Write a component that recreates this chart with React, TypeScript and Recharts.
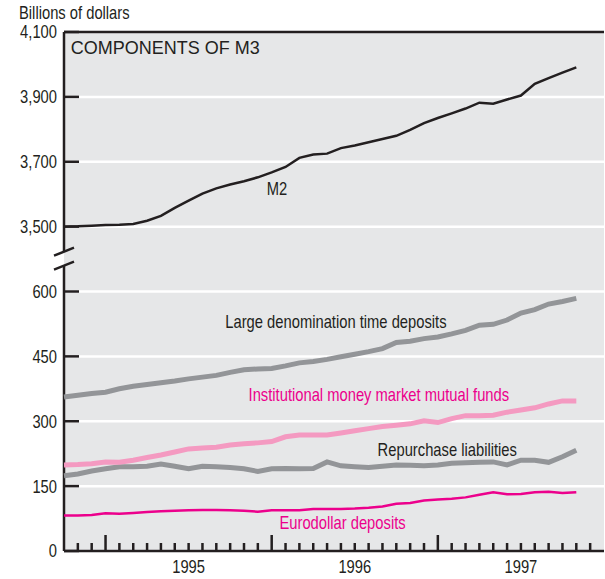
import React from 'react';
import {
  LineChart,
  Line,
  XAxis,
  YAxis,
  CartesianGrid,
  ReferenceLine,
  ReferenceDot,
} from 'recharts';

// Monthly observations, October 1994 through November 1997 (billions of dollars)
const m2 = [
  3500, 3501, 3503, 3505, 3506, 3508, 3518, 3533, 3558, 3580, 3602, 3618, 3630,
  3640, 3652, 3667, 3684, 3712, 3722, 3725, 3742, 3750, 3760, 3770, 3780, 3798,
  3819, 3835, 3849, 3864, 3882, 3879, 3892, 3904, 3940, 3958, 3975, 3991,
];
const largeTime = [
  356, 360, 364, 367, 375, 381, 385, 389, 393, 398, 402, 406, 413, 419, 421, 422,
  428, 435, 438, 443, 449, 455, 461, 468, 482, 485, 491, 495, 502, 510, 522, 524,
  534, 550, 558, 571, 577, 584,
];
const institutional = [
  199, 200, 202, 206, 205, 210, 216, 222, 229, 236, 238, 240, 245, 248, 250, 253,
  264, 268, 268, 268, 273, 278, 283, 288, 291, 294, 301, 297, 306, 313, 313, 314,
  321, 326, 331, 340, 347, 347,
];
const repurchase = [
  174, 178, 185, 190, 195, 195, 196, 201, 196, 190, 196, 195, 193, 190, 184, 190,
  191, 190, 191, 206, 197, 195, 193, 196, 199, 198, 197, 199, 203, 204, 205, 206,
  199, 210, 210, 205, 218, 233,
];
const eurodollar = [
  82, 82, 83, 87, 86, 88, 90, 92, 93, 94, 95, 95, 94, 93, 91, 94, 94, 94, 97, 97,
  97, 98, 100, 103, 109, 111, 117, 119, 121, 124, 130, 136, 131, 132, 136, 137,
  134, 136,
];

// axis: 0-600 below the break, 3,500-4,100 above it
const yTicks = [0, 150, 300, 450, 600, 750, 900, 1050, 1200];
const yTickLabels = ['0', '150', '300', '450', '600', '3,500', '3,700', '3,900', '4,100'];
const monthTicks = Array.from({ length: 38 }, (_, i) => i + 1);
const yearLabels = [
  { idx: 9, text: '1995' },
  { idx: 21, text: '1996' },
  { idx: 33, text: '1997' },
];

// upper panel values are placed on the shared axis above the break
const toBreakAxis = (v: number) => 750 + (v - 3500) * 0.75;

const data = m2.map((v, i) => ({
  idx: i,
  m2: toBreakAxis(v),
  largeTime: largeTime[i],
  institutional: institutional[i],
  repurchase: repurchase[i],
  eurodollar: eurodollar[i],
}));

const INK = '#231f20';
const MAGENTA = '#ec008c';
const PINK = '#f49ac1';
const GRAY = '#939598';
const BG = '#e6e7e8';
const SANS = "'Liberation Sans', Arial, sans-serif";

const seriesLabels = [
  { text: 'M2', idx: 14.65, value: 824, color: INK },
  { text: 'Large denomination time deposits', idx: 11.65, value: 515, color: INK },
  { text: 'Institutional money market mutual funds', idx: 13.33, value: 347, color: MAGENTA },
  { text: 'Repurchase liabilities', idx: 22.65, value: 220, color: INK },
  { text: 'Eurodollar deposits', idx: 15.56, value: 50, color: MAGENTA },
];

// Arial squeezed horizontally stands in for a condensed face
const NarrowText = ({ x, y, anchor = 'start', color = INK, dy, children }: any) => (
  <text
    transform={`translate(${x},${y}) scale(0.82,1)`}
    x={0}
    y={0}
    dy={dy}
    textAnchor={anchor}
    fontFamily={SANS}
    fontSize={18}
    fill={color}
  >
    {children}
  </text>
);

const XTick = (props: any) => {
  const { x, y, payload } = props;
  const v = payload.value;
  const jan = (v - 3) % 12 === 0;
  const label = yearLabels.find((l) => l.idx === v);
  return (
    <g>
      <line x1={x} x2={x} y1={y} y2={y - (jan ? 16 : 8)} stroke={INK} strokeWidth={2.5} />
      {label && (
        <NarrowText x={x} y={y + 22} anchor="middle">
          {label.text}
        </NarrowText>
      )}
    </g>
  );
};

const YTick = (props: any) => {
  const { x, y, payload } = props;
  const i = yTicks.indexOf(payload.value);
  return (
    <g>
      <line x1={x} x2={x + 15} y1={y} y2={y} stroke={INK} strokeWidth={2.5} />
      <NarrowText x={x - 7} y={y} dy="0.36em" anchor="end">
        {yTickLabels[i]}
      </NarrowText>
    </g>
  );
};

const breakMark = (props: any) => (
  <line
    x1={props.cx - 10}
    y1={props.cy + 4}
    x2={props.cx + 10}
    y2={props.cy - 4}
    stroke={INK}
    strokeWidth={2.5}
  />
);

export default function App() {
  return (
    <div style={{ position: 'absolute', left: 0, top: 0, width: 605, height: 579 }}>
      <LineChart width={605} height={579} data={data} margin={{ top: 32, right: 1, bottom: 0, left: 0 }}>
        <CartesianGrid vertical={false} stroke="#ffffff" strokeWidth={2.5} fill={BG} fillOpacity={1} />
        <XAxis
          dataKey="idx"
          type="number"
          domain={[0, 39]}
          ticks={monthTicks}
          interval={0}
          tick={<XTick />}
          tickLine={false}
          tickSize={0}
          tickMargin={0}
          height={28}
          axisLine={{ stroke: INK, strokeWidth: 2.5 }}
        />
        <YAxis
          type="number"
          domain={[0, 1200]}
          ticks={yTicks}
          interval={0}
          tick={<YTick />}
          tickLine={false}
          tickSize={0}
          tickMargin={0}
          width={64}
          axisLine={false}
        />
        <ReferenceLine y={1200} stroke={INK} strokeWidth={2.5} />
        <ReferenceLine segment={[{ x: 0, y: 0 }, { x: 0, y: 660 }]} stroke={INK} strokeWidth={2.5} />
        <ReferenceLine segment={[{ x: 0, y: 692 }, { x: 0, y: 1200 }]} stroke={INK} strokeWidth={2.5} />
        <ReferenceDot x={0} y={660} r={0} ifOverflow="visible" shape={breakMark} />
        <ReferenceDot x={0} y={692} r={0} ifOverflow="visible" shape={breakMark} />

        <Line type="linear" dataKey="largeTime" stroke={GRAY} strokeWidth={5} dot={false} isAnimationActive={false} />
        <Line type="linear" dataKey="repurchase" stroke={GRAY} strokeWidth={5} dot={false} isAnimationActive={false} />
        <Line type="linear" dataKey="institutional" stroke={PINK} strokeWidth={5} dot={false} isAnimationActive={false} />
        <Line type="linear" dataKey="eurodollar" stroke={MAGENTA} strokeWidth={2.5} dot={false} isAnimationActive={false} />
        <Line type="linear" dataKey="m2" stroke={INK} strokeWidth={2.5} dot={false} isAnimationActive={false} />

        <ReferenceDot
          x={0.48}
          y={1148}
          r={0}
          ifOverflow="visible"
          shape={(p: any) => (
            <text x={p.cx} y={p.cy} fontFamily={SANS} fontSize={18} fill={INK}>
              COMPONENTS OF M3
            </text>
          )}
        />
        {seriesLabels.map((l) => (
          <ReferenceDot
            key={l.text}
            x={l.idx}
            y={l.value}
            r={0}
            ifOverflow="visible"
            shape={(p: any) => (
              <NarrowText x={p.cx} y={p.cy} color={l.color}>
                {l.text}
              </NarrowText>
            )}
          />
        ))}
      </LineChart>
      <svg width={200} height={24} style={{ position: 'absolute', left: 0, top: 0 }}>
        <NarrowText x={19} y={19}>
          Billions of dollars
        </NarrowText>
      </svg>
    </div>
  );
}
